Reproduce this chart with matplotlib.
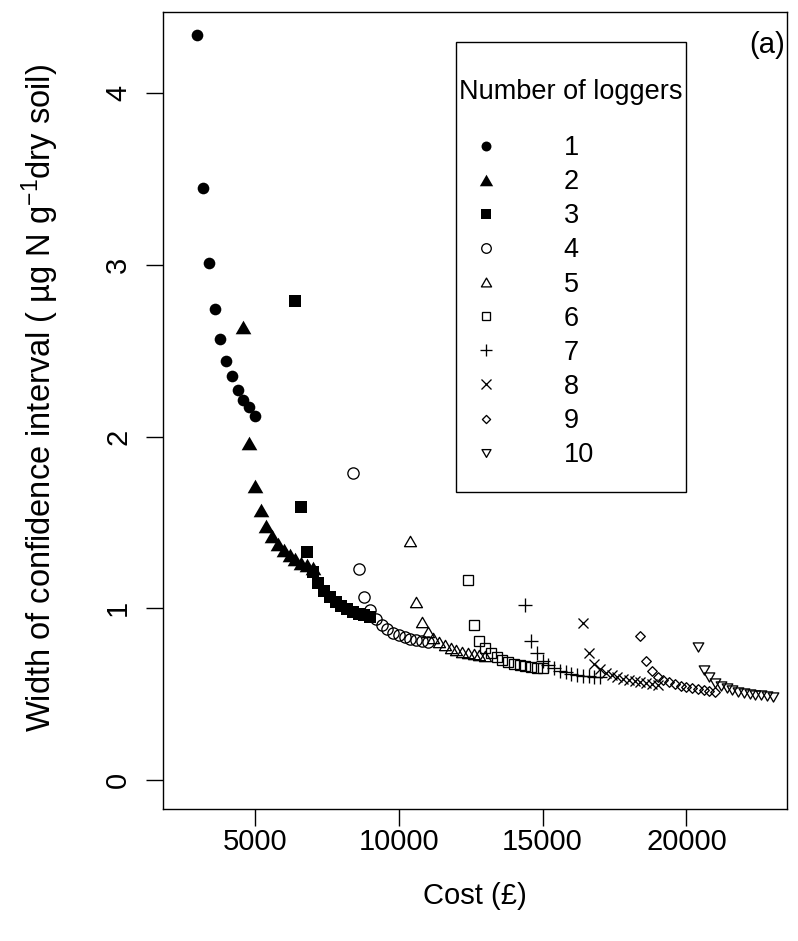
import matplotlib
matplotlib.use("Agg")
import matplotlib.pyplot as plt
from matplotlib.lines import Line2D
from matplotlib.patches import Rectangle
from matplotlib.path import Path

plt.rcParams['font.family'] = ['Liberation Sans', 'DejaVu Sans']
plt.rcParams['mathtext.fontset'] = 'custom'
plt.rcParams['mathtext.rm'] = 'Liberation Sans'
plt.rcParams['mathtext.it'] = 'Liberation Sans:italic'

# cost (GBP) and width of confidence interval, one list per number of loggers
loggers = ['1', '2', '3', '4', '5', '6', '7', '8', '9', '10']

cost_1 = [3000, 3200, 3400, 3600, 3800, 4000, 4200, 4400, 4600, 4800, 5000]
width_1 = [4.34, 3.45, 3.01, 2.74, 2.57, 2.44, 2.35, 2.27, 2.21, 2.17, 2.12]

cost_2 = [4600, 4800, 5000, 5200, 5400, 5600, 5800, 6000, 6200, 6400, 6600, 6800, 7000]
width_2 = [2.64, 1.96, 1.71, 1.57, 1.48, 1.42, 1.375, 1.34, 1.31, 1.285, 1.265, 1.25, 1.232]

cost_3 = [6400, 6600, 6800, 7000, 7200, 7400, 7600, 7800, 8000, 8200, 8400, 8600, 8800, 9000]
width_3 = [2.79, 1.59, 1.33, 1.21, 1.145, 1.10, 1.063, 1.036, 1.013, 0.996, 0.981, 0.969, 0.958, 0.949]

cost_4 = [8400, 8600, 8800, 9000, 9200, 9400, 9600, 9800, 10000, 10200, 10400, 10600, 10800, 11000]
width_4 = [1.786, 1.227, 1.067, 0.99, 0.936, 0.902, 0.877, 0.858, 0.844, 0.831, 0.821, 0.813, 0.807, 0.802]

cost_5 = [10400, 10600, 10800, 11000, 11200, 11400, 11600, 11800, 12000, 12200, 12400, 12600, 12800, 13000]
width_5 = [1.393, 1.038, 0.922, 0.864, 0.828, 0.803, 0.785, 0.770, 0.758, 0.748, 0.740, 0.733, 0.727, 0.722]

cost_6 = [12400, 12600, 12800, 13000, 13200, 13400, 13600, 13800, 14000, 14200, 14400, 14600, 14800, 15000]
width_6 = [1.164, 0.904, 0.812, 0.767, 0.737, 0.716, 0.700, 0.688, 0.678, 0.670, 0.664, 0.659, 0.654, 0.650]

cost_7 = [14400, 14600, 14800, 15000, 15200, 15400, 15600, 15800, 16000, 16200, 16400, 16600, 16800, 17000]
width_7 = [1.019, 0.811, 0.737, 0.695, 0.668, 0.650, 0.637, 0.627, 0.619, 0.613, 0.608, 0.604, 0.600, 0.597]

cost_8 = [16400, 16600, 16800, 17000, 17200, 17400, 17600, 17800, 18000, 18200, 18400, 18600, 18800, 19000]
width_8 = [0.916, 0.742, 0.678, 0.645, 0.624, 0.609, 0.598, 0.588, 0.580, 0.574, 0.568, 0.563, 0.558, 0.554]

cost_9 = [18400, 18600, 18800, 19000, 19200, 19400, 19600, 19800, 20000, 20200, 20400, 20600, 20800, 21000]
width_9 = [0.840, 0.695, 0.632, 0.602, 0.583, 0.569, 0.558, 0.549, 0.541, 0.535, 0.529, 0.524, 0.519, 0.515]

cost_10 = [20400, 20600, 20800, 21000, 21200, 21400, 21600, 21800, 22000, 22200, 22400, 22600, 22800, 23000]
width_10 = [0.776, 0.643, 0.597, 0.565, 0.547, 0.534, 0.524, 0.515, 0.508, 0.502, 0.497, 0.493, 0.489, 0.485]

x_ticks = [5000, 10000, 15000, 20000]
y_ticks = [0, 1, 2, 3, 4]

costs = [cost_1, cost_2, cost_3, cost_4, cost_5, cost_6, cost_7, cost_8, cost_9, cost_10]
widths = [width_1, width_2, width_3, width_4, width_5, width_6, width_7, width_8, width_9, width_10]

# R-like plotting symbols (bbox centred)
tri_up = Path([(0, 0.5), (0.5774, -0.5), (-0.5774, -0.5), (0, 0.5)], closed=True)
tri_dn = Path([(0, -0.5), (0.5774, 0.5), (-0.5774, 0.5), (0, -0.5)], closed=True)
diamond = Path([(0, 1), (1, 0), (0, -1), (-1, 0), (0, 1)], closed=True)

# (marker, size in pt, filled)
styles = [('o', 8.4, True), (tri_up, 11.3, True), ('s', 8.6, True),
          ('o', 8.1, False), (tri_up, 8.6, False), ('s', 6.7, False),
          ('+', 9.6, False), ('x', 7.7, False), (diamond, 6.9, False),
          (tri_dn, 7.6, False)]

W, H = 798, 941
fig = plt.figure(figsize=(W / 100, H / 100), dpi=100)
L, R, T, B = 162.7, 787.0, 12.0, 809.0
ax = fig.add_axes([L / W, 1 - B / H, (R - L) / W, (B - T) / H])


def style_kw(st, scale=1.0):
    m, s, filled = st
    if filled:
        return dict(marker=m, markersize=s * scale, markerfacecolor='black',
                    markeredgewidth=0, linestyle='none')
    if m in ('+', 'x'):
        return dict(marker=m, markersize=s * scale, markeredgecolor='black',
                    markeredgewidth=0.95, linestyle='none')
    return dict(marker=m, markersize=s * scale, markerfacecolor='none',
                markeredgecolor='black', markeredgewidth=0.95, linestyle='none')


for c, w, st in zip(costs, widths, styles):
    ax.plot(c, w, color='black', **style_kw(st))

ax.set_xlim(1791, 23498)
ax.set_ylim(-0.169, 4.472)
ax.set_xticks(x_ticks)
ax.set_yticks(y_ticks)
ax.set_xticklabels([str(v) for v in x_ticks])
ax.set_yticklabels([str(v) for v in y_ticks])
ax.tick_params(direction='out', length=12, width=1.0, labelsize=21)
ax.tick_params(axis='x', pad=2)
ax.tick_params(axis='y', labelrotation=90, pad=10)
for t in ax.get_yticklabels():
    t.set_va('center')
for sp in ax.spines.values():
    sp.set_linewidth(1.0)

ax.set_xlabel('Cost (£)', fontsize=21)
ax.set_ylabel('Width of confidence interval ( µg N g$^{-1}$dry soil)', fontsize=23.5)
ax.xaxis.set_label_coords(0.5, (B - 896) / (B - T))
ax.yaxis.set_label_coords((40 - L) / (R - L), (B - 398) / (B - T))
ax.xaxis.label.set_va('center')
ax.yaxis.label.set_va('center')


def fx(px):
    return (px - L) / (R - L)


def fy(py):
    return (B - py) / (B - T)


# legend: frame and title drawn separately, entries from ax.legend
ax.add_patch(Rectangle((fx(456), fy(492)), fx(686) - fx(456), fy(42) - fy(492),
                       transform=ax.transAxes, fill=False, edgecolor='black',
                       linewidth=1.0, clip_on=False, zorder=5))
ax.text(fx(571), fy(92), 'Number of loggers', transform=ax.transAxes,
        ha='center', va='center', fontsize=19.5)

handles = [Line2D([], [], color='black', **style_kw(st, 0.85)) for st in styles]
leg = ax.legend(handles, loggers, loc='upper left', frameon=False,
                bbox_to_anchor=(fx(472), fy(135)), borderpad=0, borderaxespad=0,
                handlelength=1.0, handletextpad=2.38, labelspacing=0.30,
                fontsize=19.5, numpoints=1)

ax.text(fx(785), fy(45), '(a)', transform=ax.transAxes, ha='right', va='center',
        fontsize=21)

fig.savefig('out.png', dpi=100)
